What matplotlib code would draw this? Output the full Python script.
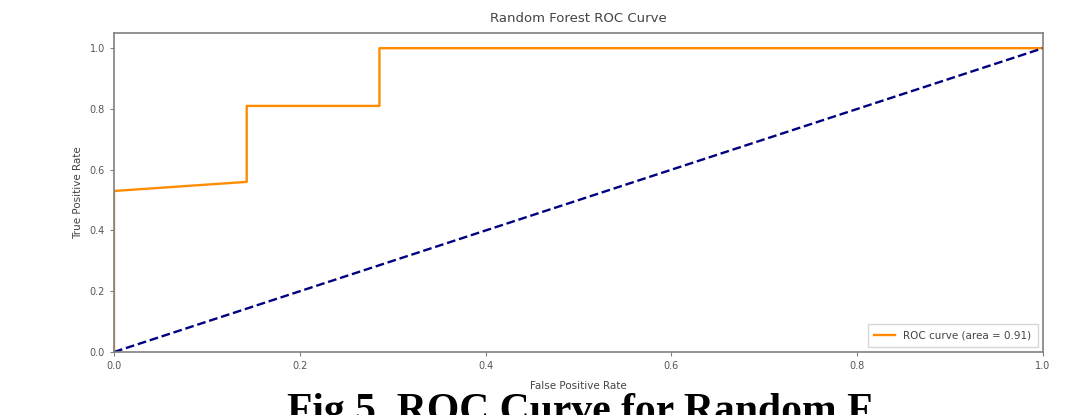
import matplotlib
matplotlib.use("Agg")
import matplotlib.pyplot as plt

# ROC data
fpr = [0.0, 0.0, 1/7, 1/7, 2/7, 2/7, 1.0]
tpr = [0.0, 0.53, 0.56, 0.81, 0.81, 1.0, 1.0]
roc_auc = 0.91
chance_x = [0, 1]
chance_y = [0, 1]
xticks = [0.0, 0.2, 0.4, 0.6, 0.8, 1.0]
yticks = [0.0, 0.2, 0.4, 0.6, 0.8, 1.0]
caption = "Fig 5. ROC Curve for Random F"

W, H = 1071, 415
fig = plt.figure(figsize=(W / 100, H / 100), dpi=100)
ax = fig.add_axes([114 / W, (H - 352) / H, (1043 - 114) / W, (352 - 33) / H])

ax.plot(fpr, tpr, color="darkorange", lw=1.7, label="ROC curve (area = %0.2f)" % roc_auc)
ax.plot(chance_x, chance_y, color="navy", lw=1.7, linestyle="--")
ax.set_xlim(0.0, 1.0)
ax.set_ylim(0.0, 1.05)
ax.set_xticks(xticks)
ax.set_yticks(yticks)
ax.set_xticklabels(["%.1f" % v for v in xticks])
ax.set_yticklabels(["%.1f" % v for v in yticks])

grey = "#808080"
for s in ax.spines.values():
    s.set_color(grey)
    s.set_linewidth(1.2)
ax.tick_params(colors=grey, labelcolor="#555555", labelsize=7, length=3)

ax.set_xlabel("False Positive Rate", fontsize=7.5, color="#444444", labelpad=7)
ax.set_ylabel("True Positive Rate", fontsize=7.5, color="#444444", labelpad=5)
ax.set_title("Random Forest ROC Curve", fontsize=9.5, color="#444444", pad=8)
leg = ax.legend(loc="lower right", fontsize=7.5, frameon=True, fancybox=False,
                edgecolor="#cccccc", borderpad=0.6)
for t in leg.get_texts():
    t.set_color("#444444")

fig.text(287 / W, (H - 422) / H, caption,
         family="Liberation Serif", fontweight="bold", fontsize=30,
         ha="left", va="baseline", color="black")

fig.savefig("out.png", dpi=100)
